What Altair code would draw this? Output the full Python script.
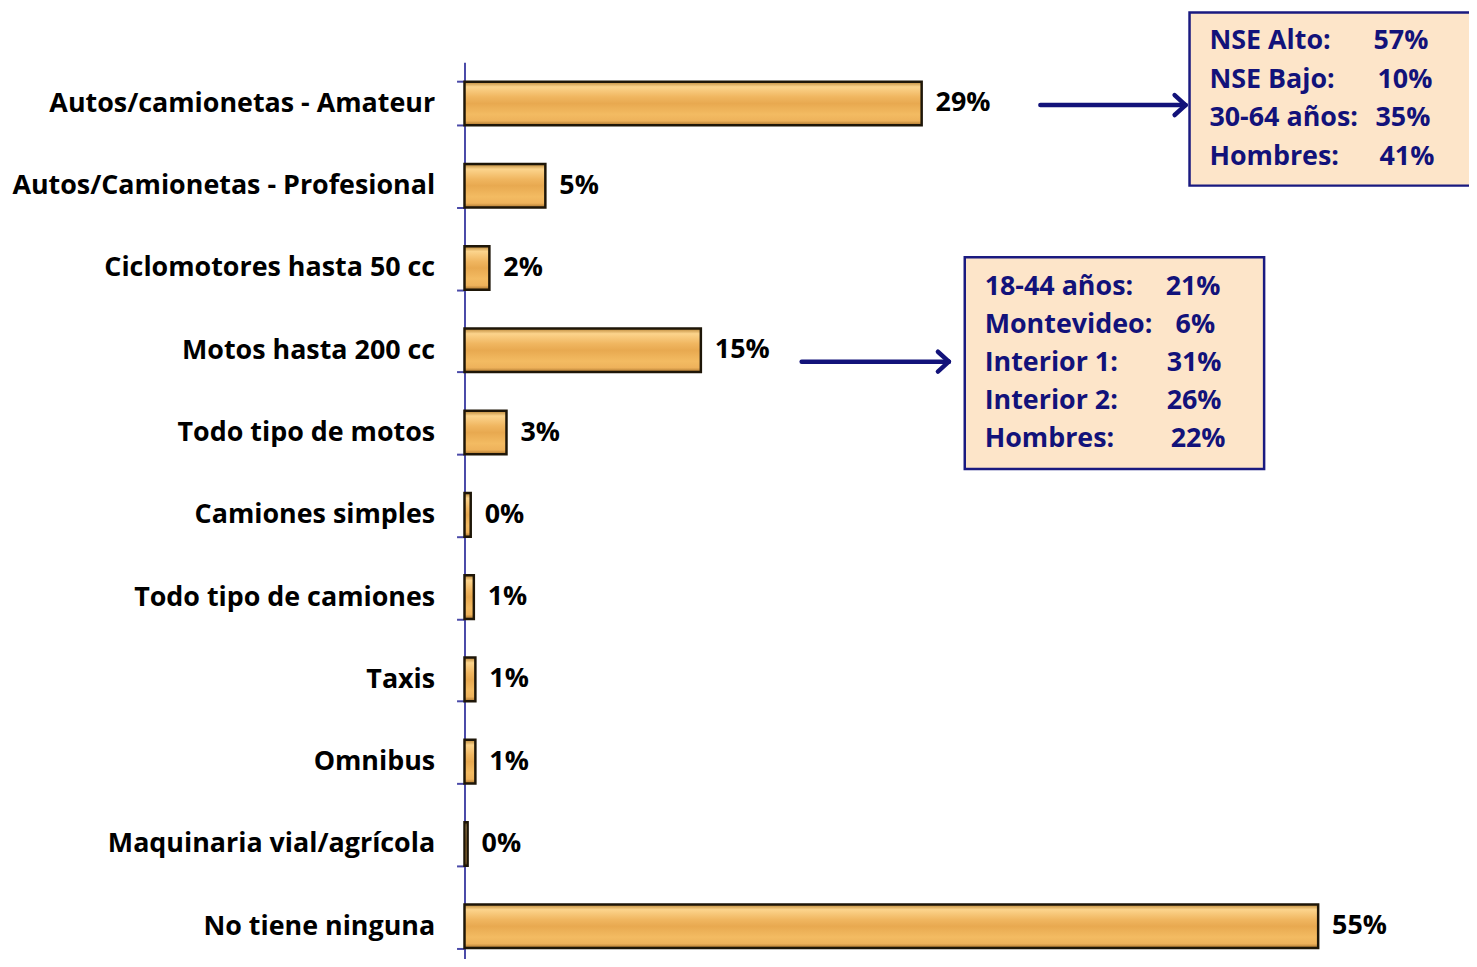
import altair as alt
import pandas as pd

categories = [
    "Autos/camionetas - Amateur",
    "Autos/Camionetas - Profesional",
    "Ciclomotores hasta 50 cc",
    "Motos hasta 200 cc",
    "Todo tipo de motos",
    "Camiones simples",
    "Todo tipo de camiones",
    "Taxis",
    "Omnibus",
    "Maquinaria vial/agrícola",
    "No tiene ninguna",
]
values = [29.4, 5.2, 1.6, 15.2, 2.7, 0.4, 0.6, 0.7, 0.7, 0.2, 54.9]
value_labels = ["29%", "5%", "2%", "15%", "3%", "0%", "1%", "1%", "1%", "0%", "55%"]

box1_labels = ["NSE Alto:", "NSE Bajo:", "30-64 años:", "Hombres:"]
box1_values = ["57%", "10%", "35%", "41%"]
box2_labels = ["18-44 años:", "Montevideo:", "Interior 1:", "Interior 2:", "Hombres:"]
box2_values = ["21%", "6%", "31%", "26%", "22%"]

FONT = "Open Sans"
NAVY = "#12127a"
AXIS_COLOR = "#4a4aa8"

df = pd.DataFrame({"cat": categories, "val": values, "lab": value_labels})

gradient = alt.Gradient(
    gradient="linear",
    x1=0, y1=0, x2=0, y2=1,
    stops=[
        alt.GradientStop(color="#b98536", offset=0),
        alt.GradientStop(color="#fcd48c", offset=0.12),
        alt.GradientStop(color="#f0b660", offset=0.35),
        alt.GradientStop(color="#e8a950", offset=0.5),
        alt.GradientStop(color="#f3bb62", offset=0.75),
        alt.GradientStop(color="#eeb25b", offset=0.9),
        alt.GradientStop(color="#a8732c", offset=1),
    ],
)

y_enc = alt.Y(
    "cat:N",
    sort=categories,
    scale=alt.Scale(range=[0, 910], paddingInner=0.47, paddingOuter=0.235),
    axis=alt.Axis(
        title=None,
        labelFont=FONT,
        labelFontSize=27,
        labelFontWeight="bold",
        labelColor="#000000",
        labelPadding=22,
        labelLimit=700,
        tickBand="extent",
        tickSize=8,
        tickColor=AXIS_COLOR,
        tickWidth=2,
        domainColor=AXIS_COLOR,
        domainWidth=2,
        grid=False,
    ),
)
x_enc = alt.X("val:Q", scale=alt.Scale(domain=[0, 64.6]), axis=None)

base = alt.Chart(df)
bars = base.mark_bar(fill=gradient, stroke="#1e1608", strokeWidth=2.5).encode(x=x_enc, y=y_enc)
texts = base.mark_text(
    align="left", baseline="middle", dx=14, font=FONT, fontSize=27, fontWeight="bold", color="#000000"
).encode(x=x_enc, y=y_enc, text="lab")

main = alt.layer(bars, texts)

# annotation boxes (pixel positions inside plot area)
boxes_df = pd.DataFrame({
    "x1": [729, 503], "x2": [1012, 804],
    "y1": [-50, 196], "y2": [124, 409],
})
boxes = alt.Chart(boxes_df).mark_rect(fill="#fde5c9", stroke="#1a1a80", strokeWidth=2.5).encode(
    x=alt.X("x1:Q", scale=None, axis=None),
    x2="x2:Q",
    y=alt.Y("y1:Q", scale=None, axis=None),
    y2="y2:Q",
)

b1_y = [-21, 18, 56, 95]
b2_y = [226, 264, 302, 341, 379]
b1_vx = [914, 918, 916, 920]
b2_vx = [705, 715, 706, 706, 710]
ann_rows = []
for t, v, yy, vx in zip(box1_labels, box1_values, b1_y, b1_vx):
    ann_rows.append({"t": t, "px": 749, "py": yy})
    ann_rows.append({"t": v, "px": vx, "py": yy})
for t, v, yy, vx in zip(box2_labels, box2_values, b2_y, b2_vx):
    ann_rows.append({"t": t, "px": 523, "py": yy})
    ann_rows.append({"t": v, "px": vx, "py": yy})
ann_df = pd.DataFrame(ann_rows)
ann_text = alt.Chart(ann_df).mark_text(
    align="left", baseline="middle", font=FONT, fontSize=27, fontWeight="bold", color=NAVY
).encode(
    x=alt.X("px:Q", scale=None, axis=None),
    y=alt.Y("py:Q", scale=None, axis=None),
    text="t",
)

seg_df = pd.DataFrame({
    "xa": [579, 725, 725, 339, 487, 487],
    "ya": [43, 43, 43, 301, 301, 301],
    "xb": [725, 714, 714, 487, 476, 476],
    "yb": [43, 33, 53, 301, 291, 311],
})
arrows = alt.Chart(seg_df).mark_rule(color=NAVY, strokeWidth=4.5, strokeCap="round").encode(
    x=alt.X("xa:Q", scale=None, axis=None),
    y=alt.Y("ya:Q", scale=None, axis=None),
    x2="xb:Q",
    y2="yb:Q",
)

chart = alt.layer(main, arrows, boxes, ann_text).resolve_scale(
    x="independent", y="independent"
).properties(
    width=1010,
    height=899,
    autosize=alt.AutoSizeParams(type="none"),
    padding={"left": 459, "top": 52, "right": 0, "bottom": 0},
    background="#ffffff",
).configure_view(stroke=None, clip=False)

chart.save("out.html", embed_options={"renderer": "svg", "actions": False})
